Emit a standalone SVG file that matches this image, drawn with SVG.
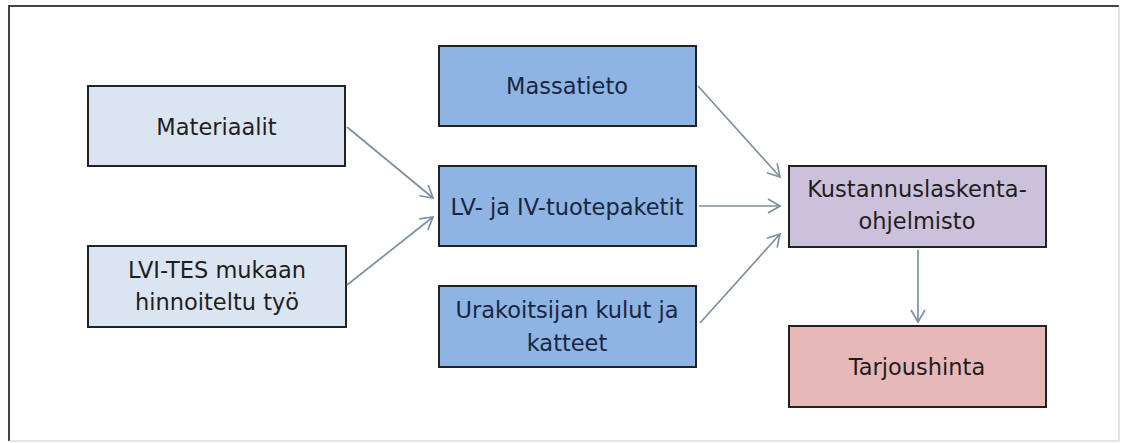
<svg xmlns="http://www.w3.org/2000/svg" width="1126" height="443" viewBox="0 0 1126 443">
<style>
.box{stroke:#222;stroke-width:2}
.t{font-family:"DejaVu Sans",Verdana,sans-serif;font-size:22.5px;text-anchor:middle;fill:#1e1e1e}
.tb{fill:#1a2540}
.c{stroke:#7d8fa3;stroke-width:1.7;fill:none;marker-end:url(#ah)}
</style>
<defs>
<marker id="ah" viewBox="0 0 14 16" refX="13" refY="8" markerWidth="14" markerHeight="16" markerUnits="userSpaceOnUse" orient="auto">
<path d="M1,1 L13,8 L1,15" fill="none" stroke="#7d8fa3" stroke-width="1.7"/>
</marker>
</defs>
<rect x="0" y="0" width="1126" height="443" fill="#fff"/>
<path d="M9,441 L9,6 L1119,6" fill="none" stroke="#444" stroke-width="2"/>
<path d="M1119,6 L1119,441 L9,441" fill="none" stroke="#c8c8c8" stroke-width="1"/>
<g id="materiaalit">
<rect class="box" x="88" y="86" width="257" height="80" fill="#dbe5f1"/>
<text class="t" x="216.5" y="135">Materiaalit</text>
</g>
<g id="lvi-tes">
<rect class="box" x="88" y="246" width="258" height="81" fill="#dbe5f1"/>
<text class="t" x="217" y="278">LVI-TES mukaan</text>
<text class="t" x="217" y="310">hinnoiteltu työ</text>
</g>
<g id="massatieto">
<rect class="box" x="439" y="46" width="257" height="80" fill="#8eb4e3"/>
<text class="t tb" x="567" y="94">Massatieto</text>
</g>
<g id="tuotepaketit">
<rect class="box" x="439" y="166" width="257" height="80" fill="#8eb4e3"/>
<text class="t tb" x="567" y="215">LV- ja IV-tuotepaketit</text>
</g>
<g id="urakoitsijan">
<rect class="box" x="439" y="286" width="257" height="81" fill="#8eb4e3"/>
<text class="t tb" x="567" y="318">Urakoitsijan kulut ja</text>
<text class="t tb" x="567" y="351">katteet</text>
</g>
<g id="kustannuslaskenta">
<rect class="box" x="789" y="166" width="257" height="81" fill="#ccc1da"/>
<text class="t" x="917" y="197">Kustannuslaskenta-</text>
<text class="t" x="917" y="229">ohjelmisto</text>
</g>
<g id="tarjoushinta">
<rect class="box" x="789" y="326" width="257" height="81" fill="#e6b9b8"/>
<text class="t" x="917" y="375">Tarjoushinta</text>
</g>
<g id="connectors">
<line class="c" x1="347" y1="127" x2="433" y2="198"/>
<line class="c" x1="347" y1="285" x2="433" y2="217"/>
<line class="c" x1="698" y1="86" x2="780" y2="177"/>
<line class="c" x1="699" y1="206" x2="780" y2="206"/>
<line class="c" x1="700" y1="323" x2="780" y2="234"/>
<line class="c" x1="918" y1="250" x2="918" y2="322"/>
</g>
</svg>
